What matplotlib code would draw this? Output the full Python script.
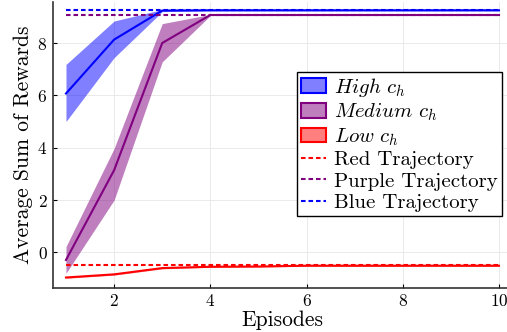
import numpy as np
import matplotlib
matplotlib.use("Agg")
import matplotlib.pyplot as plt
from matplotlib.patches import Patch
from matplotlib.lines import Line2D

plt.rcParams["font.family"] = "cmr10"
plt.rcParams["mathtext.fontset"] = "cm"
plt.rcParams["axes.formatter.use_mathtext"] = True

# dados
episodios = [1, 2, 3, 4, 5, 6, 7, 8, 9, 10]

alto_media = [6.07, 8.13, 9.24, 9.25, 9.25, 9.25, 9.25, 9.25, 9.25, 9.25]
alto_sup = [7.18, 8.84, 9.28, 9.27, 9.27, 9.27, 9.27, 9.27, 9.27, 9.27]
alto_inf = [5.00, 7.44, 9.20, 9.23, 9.23, 9.23, 9.23, 9.23, 9.23, 9.23]

medio_media = [-0.29, 3.14, 8.00, 9.07, 9.07, 9.07, 9.07, 9.07, 9.07, 9.07]
medio_sup = [0.22, 3.97, 8.74, 9.09, 9.09, 9.09, 9.09, 9.09, 9.09, 9.09]
medio_inf = [-0.80, 2.00, 7.28, 9.05, 9.05, 9.05, 9.05, 9.05, 9.05, 9.05]

baixo_media = [-0.96, -0.84, -0.60, -0.55, -0.54, -0.51, -0.51, -0.51, -0.51, -0.51]
baixo_sup = [-0.93, -0.81, -0.57, -0.53, -0.52, -0.49, -0.49, -0.49, -0.49, -0.49]
baixo_inf = [-0.99, -0.87, -0.63, -0.57, -0.56, -0.53, -0.53, -0.53, -0.53, -0.53]

traj_vermelha = -0.49
traj_roxa = 9.07
traj_azul = 9.25

azul = (0, 0, 1)
roxo = (0.5, 0, 0.5)
vermelho = (1, 0, 0)
tracejado = (0, (2.2, 1.4))

fig = plt.figure(figsize=(5.07, 3.32), dpi=100)
ax = fig.add_axes([53 / 507, 1 - 287.7 / 332, (512 - 53) / 507, 287.7 / 332 - 0.005])

ax.fill_between(episodios, alto_inf, alto_sup, color=azul, alpha=0.5, lw=0)
ax.fill_between(episodios, medio_inf, medio_sup, color=roxo, alpha=0.5, lw=0)
ax.fill_between(episodios, baixo_inf, baixo_sup, color=vermelho, alpha=0.5, lw=0)
ax.plot(episodios, alto_media, color=azul, lw=1.5)
ax.plot(episodios, medio_media, color=roxo, lw=1.5)
ax.plot(episodios, baixo_media, color=vermelho, lw=1.5)

n = len(episodios)
ax.plot(episodios, [traj_vermelha] * n, color=vermelho, ls=tracejado, lw=1.5)
ax.plot(episodios, [traj_roxa] * n, color=roxo, ls=tracejado, lw=1.5)
ax.plot(episodios, [traj_azul] * n, color=azul, ls=tracejado, lw=1.5)

ax.set_xlim(0.73, 10.27)
ax.set_ylim(-1.35, 9.58)
ax.set_xticks([2, 4, 6, 8, 10])
ax.set_yticks([0, 2, 4, 6, 8])
ax.grid(True, color="#e6e6e6", lw=0.6)
ax.set_axisbelow(True)
for lado in ["top", "right"]:
    ax.spines[lado].set_visible(False)
for lado in ["left", "bottom"]:
    ax.spines[lado].set_linewidth(1.2)
    ax.spines[lado].set_color("#333333")
ax.tick_params(direction="in", length=3, labelsize=12.5, pad=4)

ax.set_xlabel("Episodes", fontsize=15.5, labelpad=1)
ax.set_ylabel("Average Sum of Rewards", fontsize=15.5, labelpad=3)

alcas = [
    Patch(facecolor=(0, 0, 1, 0.5), edgecolor=azul, lw=1.5),
    Patch(facecolor=(0.5, 0, 0.5, 0.5), edgecolor=roxo, lw=1.5),
    Patch(facecolor=(1, 0, 0, 0.5), edgecolor=vermelho, lw=1.5),
    Line2D([], [], color=vermelho, ls=tracejado, lw=1.5),
    Line2D([], [], color=roxo, ls=tracejado, lw=1.5),
    Line2D([], [], color=azul, ls=tracejado, lw=1.5),
]
nomes = [r"$High\ c_h$", r"$Medium\ c_h$", r"$Low\ c_h$",
         "Red Trajectory", "Purple Trajectory", "Blue Trajectory"]
leg = fig.legend(alcas, nomes, loc="upper left", bbox_to_anchor=(296.7 / 507, 1 - 71.7 / 332),
                 fontsize=15, frameon=True, fancybox=False, framealpha=1,
                 edgecolor="black", handlelength=1.2, handletextpad=0.4,
                 labelspacing=0.14, borderpad=0.2, borderaxespad=0)
leg.get_frame().set_linewidth(1.0)

fig.savefig("out.png", dpi=100)
